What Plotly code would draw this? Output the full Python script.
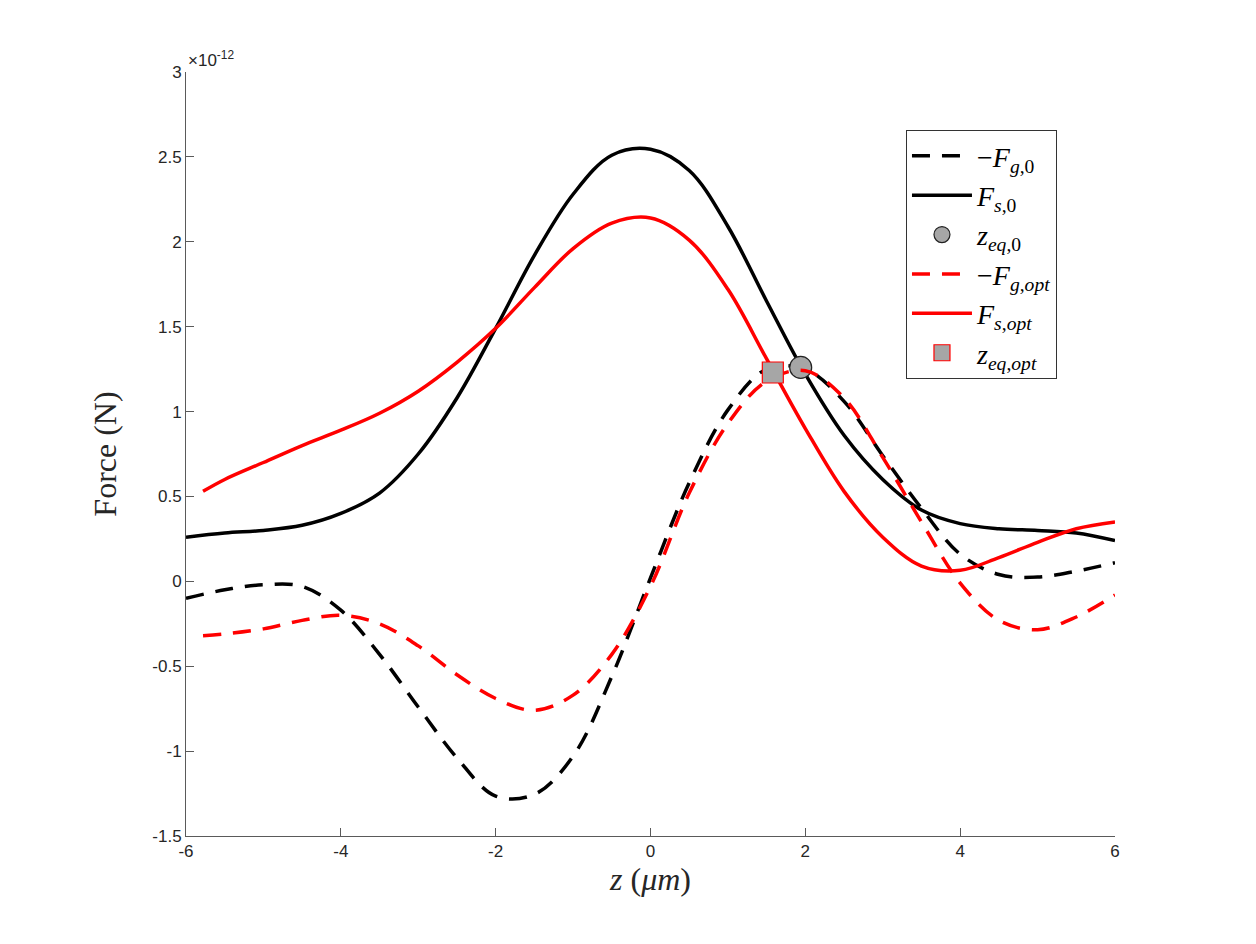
import plotly.graph_objects as go

# force curves, values in units of 1e-12 N
z_grid = [-6, -5.5, -5, -4.5, -4, -3.5, -3, -2.5, -2, -1.5, -1, -0.5, 0,
          0.5, 1, 1.5, 2, 2.5, 3, 3.5, 4, 4.5, 5, 5.5, 6]
z_opt = [-5.78, -5.5, -5, -4.5, -4, -3.5, -3, -2.5, -2, -1.5, -1, -0.5, 0,
         0.5, 1, 1.5, 2, 2.5, 3, 3.5, 4, 4.5, 5, 5.5, 6]

fs0 = [0.26, 0.285, 0.30, 0.33, 0.40, 0.52, 0.75, 1.08, 1.49, 1.92, 2.28, 2.51, 2.545,
       2.42, 2.09, 1.65, 1.22, 0.86, 0.60, 0.42, 0.34, 0.31, 0.30, 0.285, 0.24]
fg0 = [-0.10, -0.05, -0.02, -0.03, -0.17, -0.43, -0.74, -1.04, -1.265, -1.255, -1.03, -0.56, 0.02,
       0.58, 1.01, 1.25, 1.25, 1.06, 0.74, 0.43, 0.16, 0.04, 0.025, 0.06, 0.11]
fs_opt = [0.53, 0.60, 0.70, 0.80, 0.89, 0.99, 1.12, 1.29, 1.49, 1.73, 1.96, 2.11, 2.14,
          2.01, 1.72, 1.31, 0.90, 0.53, 0.26, 0.09, 0.065, 0.14, 0.23, 0.31, 0.35]
fg_opt = [-0.32, -0.31, -0.28, -0.23, -0.20, -0.25, -0.38, -0.55, -0.69, -0.76, -0.67, -0.43, -0.03,
          0.52, 0.93, 1.18, 1.24, 1.08, 0.73, 0.35, -0.01, -0.23, -0.285, -0.21, -0.08]

# equilibrium points
zeq0 = [1.94]
feq0 = [1.26]
zeqopt = [1.58]
feqopt = [1.23]

xticks = [-6, -4, -2, 0, 2, 4, 6]
xticklabels = ["-6", "-4", "-2", "0", "2", "4", "6"]
yticks = [-1.5, -1, -0.5, 0, 0.5, 1, 1.5, 2, 2.5, 3]
yticklabels = ["-1.5", "-1", "-0.5", "0", "0.5", "1", "1.5", "2", "2.5", "3"]

serif = "Liberation Serif, DejaVu Serif, serif"
axis_col = "#5a5a5a"
dash = "18px,12px"

fig = go.Figure()
fig.add_trace(go.Scatter(x=z_grid, y=fg0, mode="lines", line_shape="spline",
                         line=dict(color="black", width=3.5, dash=dash),
                         name="\u2212<i>F</i><sub><i>g</i>,0</sub>"))
fig.add_trace(go.Scatter(x=z_grid, y=fs0, mode="lines", line_shape="spline",
                         line=dict(color="black", width=3.5),
                         name="<i>F</i><sub><i>s</i>,0</sub>"))
fig.add_trace(go.Scatter(x=zeq0, y=feq0, mode="markers",
                         marker=dict(symbol="circle", size=22, color="#a6a6a6",
                                     line=dict(color="#222222", width=1.2)),
                         name="<i>z</i><sub><i>eq</i>,0</sub>"))
fig.add_trace(go.Scatter(x=z_opt, y=fg_opt, mode="lines", line_shape="spline",
                         line=dict(color="red", width=3.5, dash=dash),
                         name="\u2212<i>F</i><sub><i>g</i>,<i>opt</i></sub>"))
fig.add_trace(go.Scatter(x=z_opt, y=fs_opt, mode="lines", line_shape="spline",
                         line=dict(color="red", width=3.5),
                         name="<i>F</i><sub><i>s</i>,<i>opt</i></sub>"))
fig.add_trace(go.Scatter(x=zeqopt, y=feqopt, mode="markers",
                         marker=dict(symbol="square", size=21, color="#a6a6a6",
                                     line=dict(color="red", width=1.2)),
                         name="<i>z</i><sub><i>eq</i>,<i>opt</i></sub>"))

fig.update_layout(
    width=1256, height=944,
    margin=dict(l=178, r=149, t=64, b=116),
    paper_bgcolor="white", plot_bgcolor="white",
    font=dict(family="Liberation Sans, Arial, sans-serif", size=17, color="#262626"),
    legend=dict(x=0.775, y=0.924, xanchor="left", yanchor="top",
                bgcolor="white", bordercolor="#333333", borderwidth=1,
                font=dict(family=serif, size=28, color="black"),
                itemwidth=60, tracegroupgap=0),
    annotations=[dict(x=0, y=1, xref="paper", yref="paper", xanchor="left", yanchor="bottom",
                      text="\u00d710<sup>-12</sup>", showarrow=False,
                      font=dict(size=17, color="#262626"))],
)
fig.update_xaxes(range=[-6, 6], tickvals=xticks, ticktext=xticklabels, ticks="inside", ticklen=8,
                 tickcolor=axis_col, showline=True, linecolor=axis_col, linewidth=1,
                 showgrid=False, zeroline=False,
                 title=dict(text="<i>z</i> (<i>\u03bcm</i>)", font=dict(family=serif, size=32, color="#262626"),
                            standoff=4))
fig.update_yaxes(range=[-1.5, 3], tickvals=yticks, ticktext=yticklabels, ticks="inside", ticklen=8,
                 tickcolor=axis_col, showline=True, linecolor=axis_col, linewidth=1,
                 showgrid=False, zeroline=False,
                 title=dict(text="Force (N)", font=dict(family=serif, size=32, color="#262626"),
                            standoff=26))

fig.write_html("out.html")
